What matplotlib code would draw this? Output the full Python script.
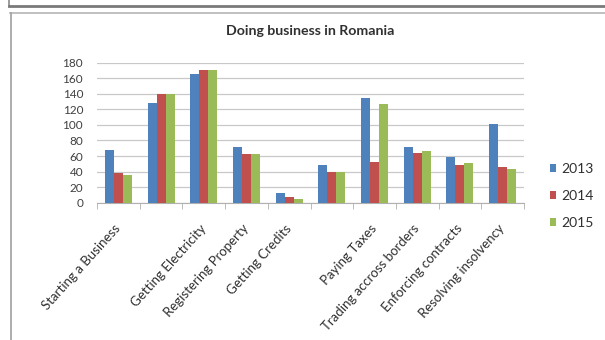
import matplotlib
matplotlib.use('Agg')
import matplotlib.pyplot as plt
from matplotlib.lines import Line2D
from matplotlib.patches import Patch
import numpy as np

categories = ['Starting a Business', '', 'Getting Electricity', 'Registering Property',
              'Getting Credits', '', 'Paying Taxes', 'Trading accross borders',
              'Enforcing contracts', 'Resolving insolvency']
rank_2013 = [68, 128, 166, 72, 12, 48, 134, 72, 59, 101]
rank_2014 = [38, 140, 170, 62, 7, 39, 52, 64, 49, 46]
rank_2015 = [36, 140, 170, 62, 5, 39, 127, 67, 51, 43]
years = ['2013', '2014', '2015']
colors = ['#4F81BD', '#C0504D', '#9BBB59']

plt.rcParams['font.family'] = ['Lato', 'DejaVu Sans']

W, H = 605, 340
fig = plt.figure(figsize=(W / 100, H / 100), dpi=100)
fig.patch.set_facecolor('white')

# frame lines around the chart
fig.add_artist(Line2D([9 / W, 9 / W], [1, 1 - 6 / H], color='#8a8a8a', lw=1.2))
fig.add_artist(Line2D([9 / W, 1], [1 - 6 / H, 1 - 6 / H], color='#7a7a7a', lw=2))
fig.add_artist(Line2D([10 / W, 1], [1 - 12.5 / H, 1 - 12.5 / H], color='#b5b5b5', lw=1.2))
fig.add_artist(Line2D([10.5 / W, 10.5 / W], [0, 1 - 12.5 / H], color='#a0a0a0', lw=1.2))

ax = fig.add_axes([97 / W, 1 - 202.7 / H, 427 / W, 140 / H])
x = np.arange(len(categories))
bw = 0.211
for i, (vals, c) in enumerate(zip([rank_2013, rank_2014, rank_2015], colors)):
    ax.bar(x + (i - 1) * bw, vals, width=bw, color=c, zorder=3)

ax.set_ylim(0, 180)
ax.set_xlim(-0.5, len(categories) - 0.5)
ax.set_yticks(range(0, 181, 20))
ax.yaxis.grid(True, color='#c8c8c8', lw=0.9, zorder=0)
for s in ['top', 'right', 'left']:
    ax.spines[s].set_visible(False)
ax.spines['bottom'].set_color('#b0b0b0')
ax.tick_params(axis='y', length=0, pad=10, labelsize=8.5, labelcolor='#404040')

ax.set_xticks(x)
ax.set_xticklabels(categories, rotation=48, ha='right', va='center',
                   rotation_mode='anchor', fontsize=9.5, color='#303030')
ax.tick_params(axis='x', which='major', length=0, pad=17)
ax.set_xticks(np.arange(-0.5, len(categories), 1), minor=True)
ax.tick_params(axis='x', which='minor', length=4, color='#b0b0b0')

fig.text(310 / W, 1 - 31 / H, 'Doing business in Romania', ha='center', va='center',
         fontsize=10.2, fontweight='bold', color='#303030')

handles = [Patch(facecolor=c) for c in colors]
fig.legend(handles, years, loc='center left', bbox_to_anchor=(537 / W, 1 - 196 / H),
           frameon=False, fontsize=10, handlelength=0.5, handleheight=0.5,
           handletextpad=0.35, labelspacing=1.1, labelcolor='#303030')

fig.savefig('out.png', dpi=100, facecolor='white')
